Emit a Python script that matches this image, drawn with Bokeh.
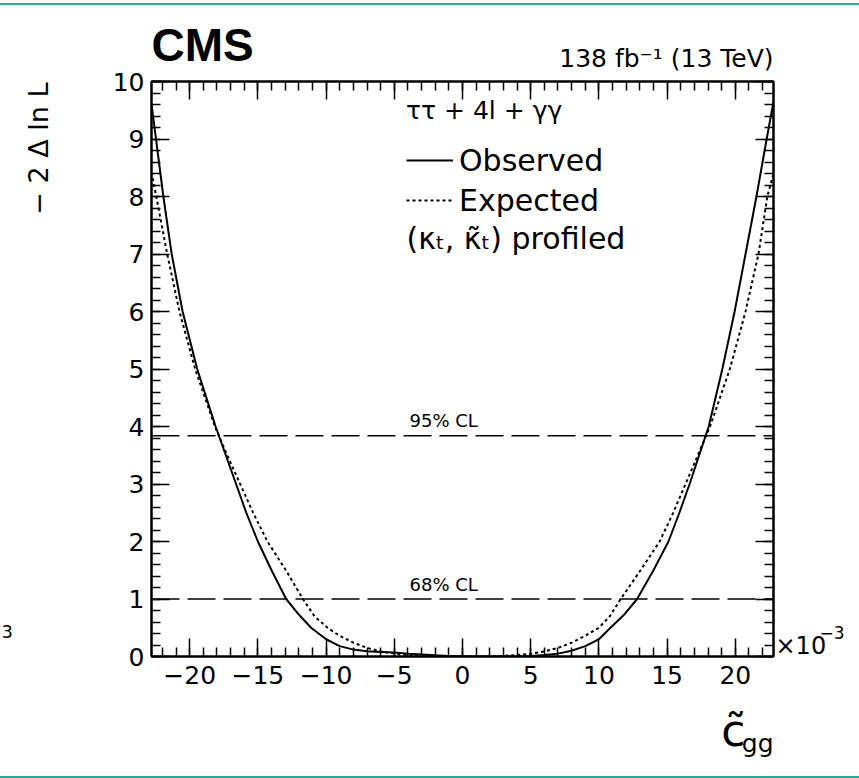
import math
from bokeh.plotting import figure
from bokeh.models import (FixedTicker, LinearAxis, Range1d, Span, Label, Legend,
                          LegendItem)
from bokeh.embed import file_html
from bokeh.resources import INLINE

# ---------------- data ----------------
obs_x = [-22.8, -22.47, -21.93, -21.32, -20.52, -19.45, -18.1, -17.35, -16.6, -15.85,
         -15.0, -14.0, -12.93, -12.0, -11.1, -10.0, -9.0, -8.0, -7.0, -6.0, -5.0,
         -4.0, -3.0, -2.0, -1.0, 0.0, 1.0, 2.0, 3.0, 4.0, 5.0, 6.0, 7.0, 8.0, 9.0,
         10.0, 10.85, 11.9, 12.8, 14.0, 15.1, 15.9, 16.65, 17.35, 18.05, 19.05,
         19.95, 20.75, 21.55, 22.3, 22.8]
obs_y = [9.61, 9.0, 8.0, 7.0, 6.0, 5.0, 4.0, 3.5, 3.0, 2.5,
         2.0, 1.5, 1.0, 0.73, 0.5, 0.3, 0.18, 0.12, 0.09, 0.08, 0.07,
         0.05, 0.035, 0.02, 0.01, 0.005, 0.002, 0.0, 0.0, 0.003, 0.01, 0.025, 0.05, 0.1, 0.18,
         0.3, 0.5, 0.74, 1.0, 1.5, 2.0, 2.5, 3.0, 3.5, 4.0, 5.0,
         6.0, 7.0, 8.0, 9.0, 9.65]

exp_x = [-22.8, -22.45, -21.65, -20.75, -19.6, -18.15, -17.25, -16.3, -15.35, -14.3,
         -12.95, -11.7, -10.85, -9.9, -9.0, -8.0, -7.0, -6.0, -5.0, -4.0, -3.0, -2.0,
         -1.0, 0.0, 1.0, 2.0, 3.0, 4.0, 5.0, 6.0, 7.0, 8.0, 9.0, 10.0, 10.8, 11.6,
         13.05, 14.45, 15.45, 16.35, 17.25, 18.15, 19.6, 20.75, 21.7, 22.35, 22.8]
exp_y = [8.42, 8.0, 7.0, 6.0, 5.0, 4.0, 3.5, 3.0, 2.5, 2.0,
         1.5, 1.0, 0.7, 0.5, 0.36, 0.24, 0.15, 0.09, 0.05, 0.025, 0.01, 0.003,
         0.0005, 0.0, 0.0005, 0.003, 0.01, 0.025, 0.045, 0.09, 0.15, 0.24, 0.36, 0.5, 0.7, 1.0,
         1.5, 2.0, 2.5, 3.0, 3.5, 4.0, 5.0, 6.0, 7.0, 8.0, 8.4]

cl_levels = [1.0, 3.84]
cl_labels = ["68% CL", "95% CL"]

x_ticks = [-20, -15, -10, -5, 0, 5, 10, 15, 20]
x_minor = list(range(-22, 23))
y_ticks = list(range(0, 11))
y_minor = [round(i * 0.2, 1) for i in range(51)]

X_MIN, X_MAX = -22.8, 22.8
Y_MIN, Y_MAX = 0.0, 10.0

FONT = "DejaVu Sans"
TEAL = "#2aa79b"

# ---------------- page geometry helpers (page pixels -> data) ----------------
W, H = 859, 778
FL, FR, FT, FB = 151, 773, 81, 656  # frame edges in page pixels
BASE_SHIFT = 0.33                   # baseline correction (fraction of font size)


def dx(px):
    return X_MIN + (px - FL) * (X_MAX - X_MIN) / (FR - FL)


def dy(py):
    return Y_MIN + (FB - py) * (Y_MAX - Y_MIN) / (FB - FT)


p = figure(width=W, height=H, output_backend="svg", toolbar_location=None,
           x_range=Range1d(X_MIN, X_MAX), y_range=Range1d(Y_MIN, Y_MAX),
           min_border_left=FL, min_border_right=W - FR,
           min_border_top=FT, min_border_bottom=H - FB)
p.background_fill_color = "white"
p.border_fill_color = None
p.styles = {"background": ("linear-gradient(to bottom, white 0px, white 3px, "
                           f"{TEAL} 3px, {TEAL} 5px, white 5px, white 776px, "
                           f"{TEAL} 776px, {TEAL} 778px)")}
p.outline_line_color = "black"
p.outline_line_width = 2
p.xgrid.visible = False
p.ygrid.visible = False


def style_axis(ax, ticks, show_labels):
    ax.axis_line_width = 2
    ax.axis_line_color = "black"
    ax.major_tick_line_width = 1.5
    ax.minor_tick_line_width = 1.5
    ax.major_tick_in = 18
    ax.major_tick_out = 0
    ax.minor_tick_in = 9
    ax.minor_tick_out = 0
    ax.major_label_text_font = FONT
    ax.major_label_text_color = "black"
    ax.major_label_text_font_size = "25px"
    if show_labels:
        ax.major_label_overrides = {t: (("\u2212" + str(-t)) if t < 0 else str(t)) for t in ticks}
    else:
        ax.major_label_overrides = {t: "" for t in ticks}
        ax.major_label_standoff = 0


p.xaxis.ticker = FixedTicker(ticks=x_ticks, minor_ticks=x_minor)
p.yaxis.ticker = FixedTicker(ticks=y_ticks, minor_ticks=y_minor)
style_axis(p.xaxis[0], x_ticks, True)
style_axis(p.yaxis[0], y_ticks, True)
p.xaxis.major_label_standoff = 9
p.yaxis.major_label_standoff = 7

top_ax = LinearAxis(ticker=FixedTicker(ticks=x_ticks, minor_ticks=x_minor))
right_ax = LinearAxis(ticker=FixedTicker(ticks=y_ticks, minor_ticks=y_minor))
style_axis(top_ax, x_ticks, False)
style_axis(right_ax, y_ticks, False)
p.add_layout(top_ax, "above")
p.add_layout(right_ax, "right")

# confidence-level lines
for lev, lab in zip(cl_levels, cl_labels):
    p.add_layout(Span(location=lev, dimension="width", line_color="black",
                      line_width=1.5, line_dash="28 8"))
    p.add_layout(Label(x=dx(409), y=lev, y_offset=9 + BASE_SHIFT * 18, text=lab,
                       text_font=FONT, text_font_size="18px", text_color="black",
                       text_align="left", text_baseline="alphabetic"))

# curves
r_obs = p.line(obs_x, obs_y, line_color="black", line_width=2)
r_exp = p.line(exp_x, exp_y, line_color="black", line_width=2, line_dash="3 3")

legend = Legend(items=[LegendItem(label="Observed", renderers=[r_obs]),
                       LegendItem(label="Expected", renderers=[r_exp])],
                title="\u03c4\u03c4 + 4l + \u03b3\u03b3",
                location=(406 - FL, FB - 218))
legend.title_text_font = FONT
legend.title_text_font_size = "25px"
legend.title_text_font_style = "normal"
legend.title_text_color = "black"
legend.title_standoff = 17
legend.label_text_font = FONT
legend.label_text_font_size = "30px"
legend.label_text_color = "black"
legend.glyph_width = 47
legend.glyph_height = 36
legend.label_height = 36
legend.label_standoff = 6
legend.spacing = 4
legend.padding = 0
legend.margin = 0
legend.border_line_color = None
legend.background_fill_alpha = 0
p.add_layout(legend)


def text_at(px, py, text, size, side=None, align="left", style="normal",
            angle=0.0, font=FONT):
    shift = BASE_SHIFT * size
    if angle == 0.0:
        lx, ly = dx(px), dy(py - shift)
    else:  # rotated by +90 degrees: baseline lies on the right-hand side
        lx, ly = dx(px - shift), dy(py)
    lab = Label(x=lx, y=ly, text=text, text_font=font, text_color="black",
                text_font_size=f"{size}px", text_font_style=style,
                text_align=align, text_baseline="alphabetic", angle=angle)
    if side is None:
        p.add_layout(lab)
    else:
        p.add_layout(lab, side)


text_at(406, 248, "(\u03ba\u209c, \u03ba\u0303\u209c) profiled", 30)

# header texts (placed in the top border panel so they are not clipped)
text_at(151, 60, "CMS", 46, "above", style="bold", font="Liberation Sans")
text_at(773, 66, "138 fb\u207b\u00b9 (13 TeV)", 25, "above", align="right")

# axis titles
text_at(47, 82, "\u2212 2 \u0394 ln L", 27, "left", align="right", angle=math.pi / 2)
text_at(745, 745, "c\u0303", 44, "below", align="right")
text_at(773, 751, "gg", 25, "below", align="right")

# exponent of the x axis
text_at(775, 653, "\u00d710", 24, "right")
text_at(819, 638, "\u22123", 17, "right")

# fragment at the left edge (kept fully inside the page)
text_at(1, 637, "3", 18, "left", align="left")

open("out.html", "w").write(file_html(p, INLINE))
